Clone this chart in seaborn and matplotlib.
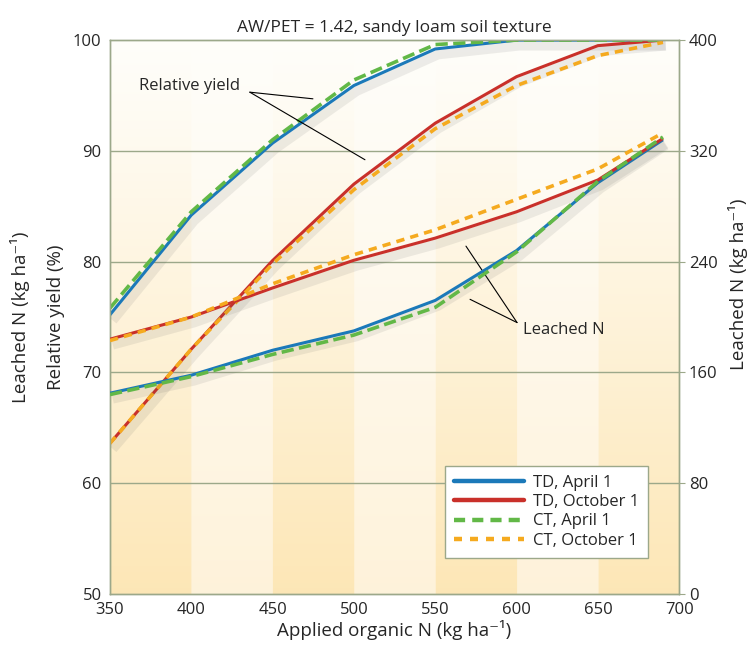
import numpy as np
import pandas as pd
import matplotlib
matplotlib.use('Agg')
import matplotlib.pyplot as plt
import matplotlib.patheffects as pe
from matplotlib.lines import Line2D
import seaborn as sns

sns.set_style('white')
plt.rcParams['font.family'] = ['Open Sans', 'DejaVu Sans']

# applied organic N (kg/ha)
applied_n = [350, 400, 450, 500, 550, 600, 650, 690]

# relative yield (%)
yield_td_apr = [75.2, 84.2, 90.7, 95.9, 99.2, 100.0, 100.0, 100.0]
yield_td_oct = [63.6, 72.1, 80.1, 87.0, 92.5, 96.7, 99.5, 100.0]
yield_ct_apr = [75.8, 84.5, 91.0, 96.4, 99.6, 100.0, 100.0, 100.0]
yield_ct_oct = [63.6, 72.1, 79.8, 86.5, 92.0, 95.9, 98.6, 99.8]

# leached N (kg/ha)
leach_td_apr = [145, 158, 176, 190, 212, 248, 297, 328]
leach_td_oct = [184, 200, 221, 241, 257, 276, 299, 329]
leach_ct_apr = [144, 157, 173, 187, 207, 247, 298, 330]
leach_ct_oct = [183, 200, 224, 245, 263, 285, 307, 333]

series_names = ['TD, April 1', 'TD, October 1', 'CT, April 1', 'CT, October 1']
colors = ['#1b79b9', '#c9302a', '#62b847', '#f5aa1f']

yield_df = pd.DataFrame({
    'applied': applied_n * 4,
    'value': yield_td_apr + yield_td_oct + yield_ct_apr + yield_ct_oct,
    'series': np.repeat(series_names, len(applied_n)),
})
leach_df = pd.DataFrame({
    'applied': applied_n * 4,
    'value': leach_td_apr + leach_td_oct + leach_ct_apr + leach_ct_oct,
    'series': np.repeat(series_names, len(applied_n)),
})

# annotation leader lines
ry_text = (368, 95.9)
ry_lines = [([436, 474.8], [95.3, 94.7]), ([436, 506.8], [95.3, 89.2])]
ln_text = (604, 73.8)
ln_lines = [([600.3, 568.9], [74.5, 81.4]), ([600.3, 571.4], [74.5, 76.6])]

edge = '#9ca88a'
fig = plt.figure(figsize=(7.53, 6.47), dpi=100)
ax = fig.add_axes([0.146, 0.082, 0.756, 0.856])

# striped background with vertical gradient (white at top)
xs = np.linspace(350, 700, 700)
ys = np.linspace(0, 1, 200)
dark = ((xs - 350) // 50) % 2 == 0
top = np.array([1.0, 0.995, 0.98])
bot_dark = np.array([0.992, 0.905, 0.715])
bot_light = np.array([0.996, 0.95, 0.855])
t = ys ** 1.1
img = np.zeros((len(ys), len(xs), 3))
for j in range(len(xs)):
    b = bot_dark if dark[j] else bot_light
    img[:, j, :] = top[None, :] * (1 - t[:, None]) + b[None, :] * t[:, None]
ax.imshow(img, extent=[350, 700, 50, 100], origin='upper', aspect='auto', zorder=0)

ax.set_xlim(350, 700)
ax.set_ylim(50, 100)
ax.set_xticks(range(350, 701, 50))
ax.set_yticks(range(50, 101, 10))
ax.grid(False)
for y in [60, 70, 80, 90]:
    ax.axhline(y, color=edge, lw=1.0, zorder=1)

ax2 = ax.twinx()
ax2.set_ylim(0, 400)
ax2.set_yticks(range(0, 401, 80))

shadow = [pe.SimpleLineShadow(offset=(2, -4), shadow_color='#555555', alpha=0.1, linewidth=7),
          pe.Normal()]
dash_map = {'TD, April 1': (None, 2.2), 'TD, October 1': (None, 2.2),
            'CT, April 1': ((3.4, 1.5), 2.6), 'CT, October 1': ((2.3, 1.7), 2.6)}

for target, df in [(ax, yield_df), (ax2, leach_df)]:
    for name, col in zip(series_names, colors):
        sub = df[df['series'] == name]
        dashes, lw = dash_map[name]
        sns.lineplot(data=sub, x='applied', y='value', color=col, lw=lw, ax=target,
                     legend=False, zorder=3)
        line = target.lines[-1]
        if dashes is not None:
            line.set_dashes(dashes)
        else:
            line.set_path_effects(shadow)
        line.set_solid_capstyle('butt')

for a in (ax, ax2):
    for s in a.spines.values():
        s.set_color(edge)
        s.set_linewidth(1.0)
    a.set_xlabel('')
    a.set_ylabel('')
ax.tick_params(axis='both', labelsize=12, color=edge, length=3, pad=3)
ax.tick_params(axis='y', left=False)
ax.tick_params(axis='x', bottom=False)
ax2.tick_params(axis='y', labelsize=12, color=edge, length=4, pad=3)

ax.set_xlabel('Applied organic N (kg ha\u207b\u00b9)', fontsize=13.5, labelpad=1)
ax.set_ylabel('Relative yield (%)', fontsize=13.5, labelpad=6)
ax2.set_ylabel('Leached N (kg ha\u207b\u00b9)', fontsize=13.5, labelpad=4)
ax2.yaxis.set_label_coords(1.085, 0.56)
fig.text(0.027, 0.51, 'Leached N (kg ha\u207b\u00b9)', rotation=90, fontsize=13.5,
         ha='center', va='center')
ax.set_title('AW/PET = 1.42, sandy loam soil texture', fontsize=12.5, pad=6)

ax.text(ry_text[0], ry_text[1], 'Relative yield', fontsize=12, va='center', zorder=5)
for lx, ly in ry_lines:
    ax.plot(lx, ly, color='black', lw=0.8, zorder=5)
ax.text(ln_text[0], ln_text[1], 'Leached N', fontsize=12, va='center', zorder=5)
for lx, ly in ln_lines:
    ax.plot(lx, ly, color='black', lw=0.8, zorder=5)

handles = []
for name, col in zip(series_names, colors):
    dashes, lw = dash_map[name]
    h = Line2D([0], [0], color=col, lw=3.2)
    if dashes is not None:
        h.set_dashes((2.5, 1.6) if name == 'CT, April 1' else (1.8, 1.8))
    handles.append(h)
leg = ax2.legend(handles, series_names, loc='lower right', bbox_to_anchor=(0.96, 0.05),
                 fontsize=12, frameon=True, fancybox=False, framealpha=1,
                 edgecolor=edge, handlelength=4.2, handletextpad=0.5,
                 labelspacing=0.2, borderpad=0.55)
leg.get_frame().set_linewidth(1.0)

fig.savefig('out.png', dpi=100)
